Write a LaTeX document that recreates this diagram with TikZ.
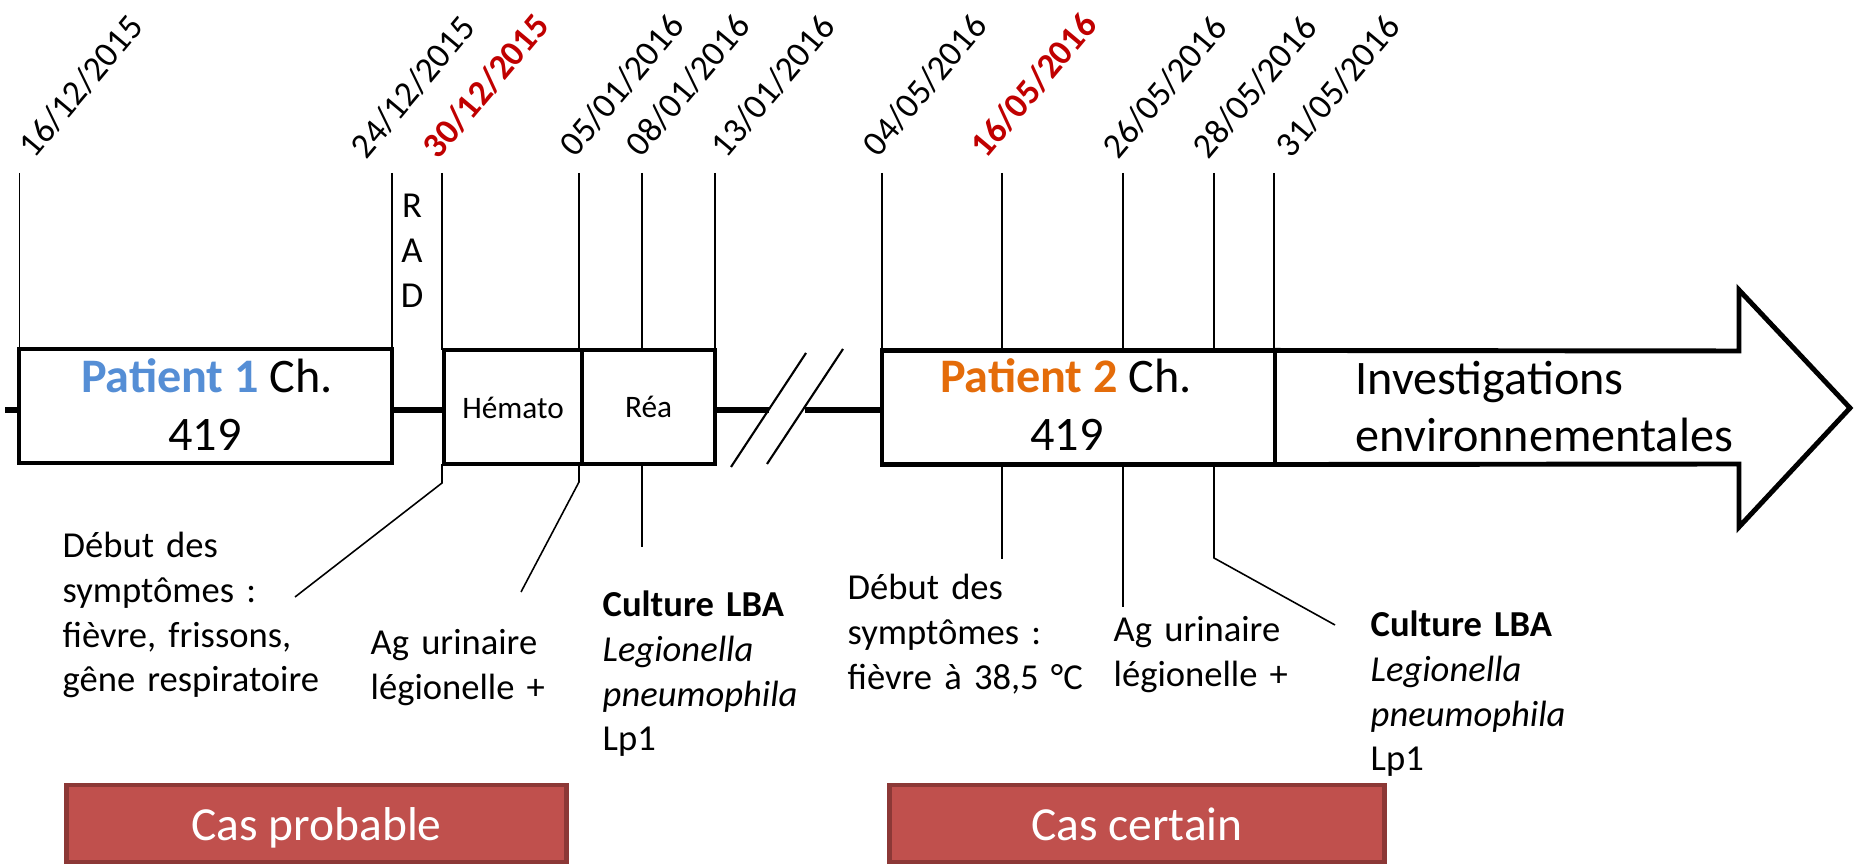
\documentclass[tikz,border=0pt]{standalone}
\usepackage{fontspec}
\setmainfont{Carlito}
\usetikzlibrary{positioning}
\definecolor{pblue}{HTML}{558ED5}
\definecolor{porange}{HTML}{E46C0A}
\definecolor{datered}{HTML}{C00000}
\definecolor{casfill}{HTML}{C0504D}
\definecolor{casedge}{HTML}{8C3836}
\tikzset{
    tlbox/.style={
        draw,
        line width=1.3pt,
        minimum height=1.14cm,
        inner sep=0pt,
        outer sep=0pt
    },
    datelbl/.style={rotate=50, anchor=base west, inner sep=0pt, font=\fontsize{10.1}{12}\selectfont},
    keydate/.style={datelbl, text=datered, font=\fontsize{10.1}{12}\selectfont\bfseries},
    tick/.style={line width=0.45pt},
    mainline/.style={line width=1.45pt},
    note/.style={anchor=base west, inner sep=0pt, text width=3.6cm, align=left, font=\fontsize{10.4}{12.7}\selectfont},
    bigtext/.style={anchor=base, inner sep=0pt, font=\fontsize{13.7}{16.5}\selectfont},
    smalltext/.style={anchor=base, inner sep=0pt, font=\fontsize{8.9}{10}\selectfont},
    casbox/.style={
        draw=casedge,
        fill=casfill,
        line width=1.4pt,
        minimum height=0.77cm,
        text=white,
        text height=9.7pt,
        text depth=0pt,
        font=\fontsize{13.5}{16}\selectfont
    }
}

\begin{document}
\begin{tikzpicture}[x=0.01cm, y=-0.01cm]
  \useasboundingbox (0,0) rectangle (1858,865);

  % stays
  \node[tlbox, minimum width=3.73cm] (P1) at (205.5,406) {};
  \node[tlbox, minimum width=1.38cm] (H) at (513,407) {};
  \node[tlbox, minimum width=1.33cm, right=0pt of H] (R) {};
  \node[tlbox, minimum width=3.93cm] (P2) at (1078.5,407.5) {};
  \draw[line width=1.4pt, line join=miter] (P2.north east) -- (1739,351) -- (1739,290)
    -- (1850,408) -- (1739,527) -- (1739,464) -- (P2.south east);

  \node[bigtext] (P1a) at (207,393) {\textcolor{pblue}{\bfseries Patient 1} Ch.};
  \node[bigtext] (P1b) at (205,451) {419};
  \node[bigtext] (P2a) at (1066,393) {\textcolor{porange}{\bfseries Patient 2} Ch.};
  \node[bigtext] (P2b) at (1067,451) {419};
  \node[smalltext] (Ht) at (H |- 0,419) {Hémato};
  \node[smalltext] (Rt) at (R |- 0,418) {Réa};
  \node[anchor=base west, inner sep=0pt, text width=5cm, align=left,
        font=\fontsize{13.7}{16.2}\selectfont] (Env) at (1355,395) {Investigations\\environnementales};
  \node[note, text width=1em, align=center, anchor=base] (RAD) at (412,218) {R\\A\\D};

  % time line
  \coordinate (L0) at (5,410);
  \coordinate (brkL) at (769,410);
  \coordinate (brkR) at (805,410);
  \draw[mainline] (L0) -- (L0 -| P1.west);
  \draw[mainline] (P1.east |- L0) -- (H.west |- L0);
  \draw[mainline] (R.east |- L0) -- (brkL);
  \draw[mainline] (brkR) -- (P2.west |- L0);
  \coordinate (s1a) at (731,467);
  \coordinate (s1b) at (806,353);
  \coordinate (s2a) at (767,464);
  \coordinate (s2b) at (843,349);
  \draw[line width=0.6pt] (s1a) -- (s1b) (s2a) -- (s2b);

  % dates
  \coordinate (d1) at (19.5,173);
  \coordinate (d2) at (392,173);
  \coordinate (d3) at (442,173);
  \coordinate (d4) at (579,173);
  \coordinate (d5) at (642,173);
  \coordinate (d6) at (715,173);
  \coordinate (d7) at (882,173);
  \coordinate (d8) at (1002,173);
  \coordinate (d9) at (1123,173);
  \coordinate (d10) at (1214,173);
  \coordinate (d11) at (1274,173);
  \draw[tick] (d1) -- (d1 |- P1.north);
  \draw[tick] (d2) -- (d2 |- P1.north);
  \draw[tick] (d3) -- (d3 |- H.north);
  \draw[tick] (d4) -- (d4 |- H.north);
  \draw[tick] (d5) -- (d5 |- R.north);
  \draw[tick] (d6) -- (d6 |- R.north);
  \draw[tick] (d7) -- (d7 |- P2.north);
  \draw[tick] (d8) -- (d8 |- P2.north);
  \draw[tick] (d9) -- (d9 |- P2.north);
  \draw[tick] (d10) -- (d10 |- P2.north);
  \draw[tick] (d11) -- (d11 |- P2.north);
  \node[datelbl] (D1) at (34,160) {16/12/2015};
  \node[datelbl] (D2) at (366,161) {24/12/2015};
  \node[keydate] (D3) at (438,161) {30/12/2015};
  \node[datelbl] (D4) at (575,159) {05/01/2016};
  \node[datelbl] (D5) at (641,159) {08/01/2016};
  \node[datelbl] (D6) at (726,160) {13/01/2016};
  \node[datelbl] (D7) at (878,159) {04/05/2016};
  \node[keydate] (D8) at (986,160) {16/05/2016};
  \node[datelbl] (D9) at (1118,161) {26/05/2016};
  \node[datelbl] (D10) at (1208,161) {28/05/2016};
  \node[datelbl] (D11) at (1291,160) {31/05/2016};

  % events
  \node[note] (N1) at (62,558) {Début des\\symptômes :\\fièvre, frissons,\\gêne respiratoire};
  \node[note] (N2) at (370,655) {Ag urinaire\\légionelle +};
  \node[note] (N3) at (602,617) {\textbf{Culture LBA}\\\textit{Legionella}\\\textit{pneumophila}\\Lp1};
  \node[note] (N4) at (847,600) {Début des\\symptômes :\\fièvre à 38,5 °C};
  \node[note] (N5) at (1113,642) {Ag urinaire\\légionelle +};
  \node[note] (N6) at (1370,637) {\textbf{Culture LBA}\\\textit{Legionella}\\\textit{pneumophila}\\Lp1};
  \coordinate (k3) at (442,483);
  \coordinate (e3) at (295,597);
  \coordinate (k4) at (579,482);
  \coordinate (e4) at (521,592);
  \coordinate (e5) at (642,547);
  \coordinate (e8) at (1002,559);
  \coordinate (e9) at (1123,607);
  \coordinate (k10) at (1214,558);
  \coordinate (e10) at (1335,625);
  \draw[tick] (d3 |- H.south) -- (k3) -- (e3);
  \draw[tick] (d4 |- H.south) -- (k4) -- (e4);
  \draw[tick] (d5 |- R.south) -- (e5);
  \draw[tick] (d8 |- P2.south) -- (e8);
  \draw[tick] (d9 |- P2.south) -- (e9);
  \draw[tick] (d10 |- P2.south) -- (k10) -- (e10);

  % case status
  \node[casbox, minimum width=4.99cm] (C1) at (316.5,823.5) {Cas probable};
  \node[casbox, minimum width=4.94cm] (C2) at (1137,823.5) {Cas certain};

\end{tikzpicture}
\end{document}
